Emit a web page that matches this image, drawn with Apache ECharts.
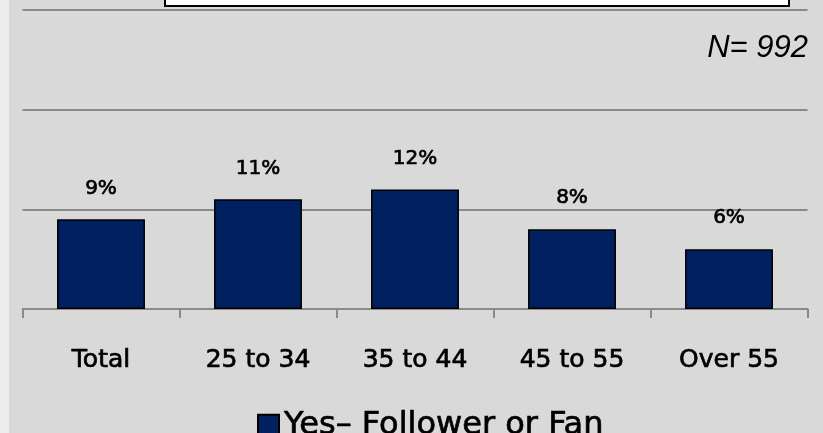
<!DOCTYPE html>
<html>
<head>
<meta charset="utf-8">
<style>
  html, body { margin: 0; padding: 0; background: #ececec; }
  #chart { width: 823px; height: 433px; }
</style>
<script src="https://cdn.jsdelivr.net/npm/echarts@6/dist/echarts.min.js"></script>
</head>
<body>
<div id="chart"></div>
<script>
// Age groups and share of respondents who are a follower or fan
const categories = ['Total', '25 to 34', '35 to 44', '45 to 55', 'Over 55'];
const followerShare = [9, 11, 12, 8, 6];
const seriesName = 'Yes\u2013 Follower or Fan';
const sampleNote = 'N= 992';
const axisMax = 30;
const axisStep = 10;

// slightly heavier strokes for the sans labels
const heavy = { textBorderColor: '#000000', textBorderWidth: 0.7 };

const chart = echarts.init(document.getElementById('chart'), null, { renderer: 'canvas' });

chart.setOption({
  animation: false,
  backgroundColor: 'transparent',
  graphic: [
    {
      type: 'rect', z: -10, silent: true,
      shape: { x: 9, y: 0, width: 830, height: 440 },
      style: { fill: '#d9d9d9' }
    },
    {
      type: 'rect', z: 10, silent: true,
      shape: { x: 165, y: -20, width: 624, height: 26 },
      style: { fill: '#ffffff', stroke: '#000000', lineWidth: 2 }
    },
    {
      type: 'text', z: 10, silent: true,
      right: 15, top: 33,
      style: {
        text: sampleNote,
        font: 'italic 31px "Liberation Sans", Arial, sans-serif',
        fill: '#000000'
      }
    }
  ],
  grid: { left: 22.5, right: 15.5, top: 10, bottom: 124 },
  legend: {
    left: 252, top: 404,
    itemWidth: 21, itemHeight: 21, itemGap: 9,
    icon: 'rect',
    textStyle: Object.assign({ fontFamily: 'DejaVu Sans', fontSize: 32, color: '#000000' }, heavy),
    data: [seriesName]
  },
  xAxis: {
    type: 'category',
    data: categories,
    boundaryGap: true,
    axisLine: { lineStyle: { color: '#8a8a8a', width: 2 } },
    axisTick: { show: true, length: 9, lineStyle: { color: '#8a8a8a', width: 2 } },
    axisLabel: Object.assign({
      margin: 39, color: '#000000',
      fontFamily: 'DejaVu Sans', fontSize: 25
    }, heavy)
  },
  yAxis: {
    type: 'value',
    min: 0, max: axisMax, interval: axisStep,
    axisLabel: { show: false },
    axisLine: { show: false },
    axisTick: { show: false },
    splitLine: { lineStyle: { color: '#8a8a8a', width: 2 } }
  },
  series: [{
    name: seriesName,
    type: 'bar',
    data: followerShare,
    barCategoryGap: '44%',
    itemStyle: { color: '#002060', borderColor: '#000000', borderWidth: 1.5 },
    label: Object.assign({
      show: true, position: 'top', distance: 21,
      formatter: p => p.value + '%',
      fontFamily: 'DejaVu Sans', fontSize: 20, color: '#000000'
    }, heavy)
  }]
});
</script>
</body>
</html>
